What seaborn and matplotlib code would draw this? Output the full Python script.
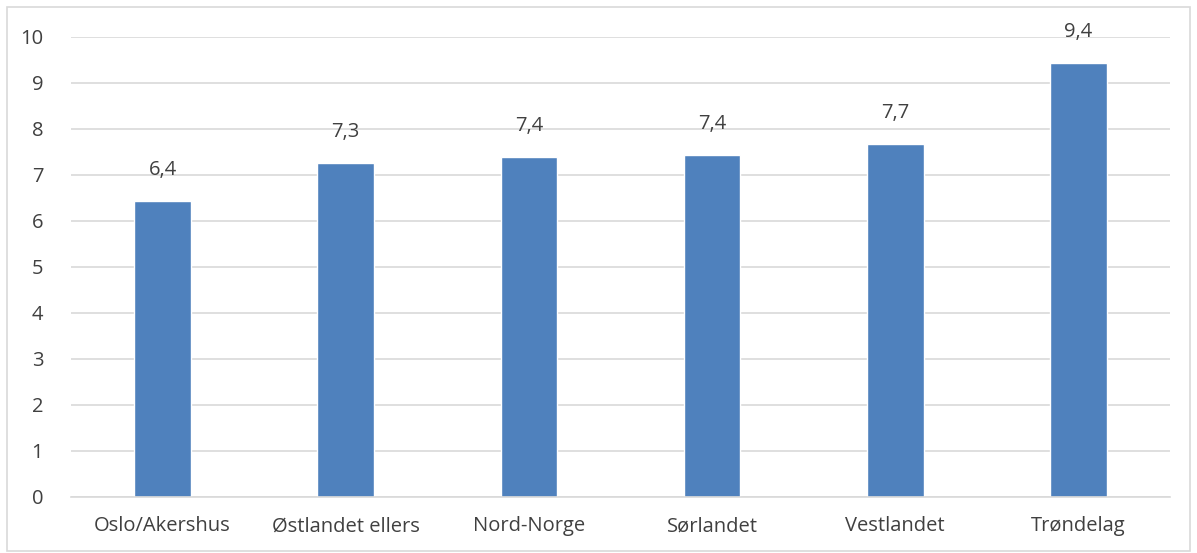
import matplotlib

matplotlib.use('Agg')
import matplotlib.pyplot as plt
import seaborn as sns
import pandas as pd
from matplotlib.patches import Rectangle

# data
regions = ['Oslo/Akershus', 'Østlandet ellers', 'Nord-Norge', 'Sørlandet', 'Vestlandet', 'Trøndelag']
values = [6.43, 7.26, 7.39, 7.43, 7.68, 9.43]

BAR = '#4F81BD'
TEXT = '#404040'
GRID = '#D9D9D9'

sns.set_theme(style='white')
plt.rcParams['font.family'] = ['Open Sans', 'DejaVu Sans']

df = pd.DataFrame({'region': regions, 'value': values})

fig = plt.figure(figsize=(11.97, 5.53), dpi=100)
ax = fig.add_axes([71 / 1197, 56 / 553, 1099 / 1197, 460 / 553])

sns.barplot(data=df, x='region', y='value', color=BAR, width=0.31, saturation=1, ax=ax)

for i, v in enumerate(values):
    ax.annotate(f'{v:.1f}'.replace('.', ','), (i, v), xytext=(0, 15), textcoords='offset points',
                ha='center', va='bottom', fontsize=14.5, color=TEXT)

ax.set_ylim(0, 10)
ax.set_yticks(range(0, 11))
ax.yaxis.grid(True, color=GRID, linewidth=1.2)
ax.set_axisbelow(True)
for s in ['top', 'right', 'left']:
    ax.spines[s].set_visible(False)
ax.spines['bottom'].set_color(GRID)
ax.spines['bottom'].set_linewidth(1.2)
ax.tick_params(axis='both', length=0, labelsize=14.5, labelcolor=TEXT)
ax.tick_params(axis='y', pad=20)
ax.tick_params(axis='x', pad=14)
ax.set_xlabel('')
ax.set_ylabel('')

# chart border like the Excel frame
fig.patches.append(Rectangle((7 / 1197, 2 / 553), 1183 / 1197, 544 / 553, transform=fig.transFigure,
                             fill=False, edgecolor=GRID, linewidth=1.2))

plt.savefig('out.png', dpi=100)
